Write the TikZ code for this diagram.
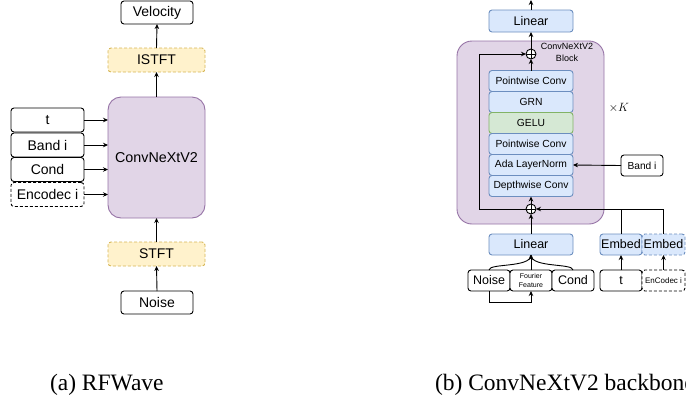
\documentclass[tikz,border=0pt]{standalone}
\usepackage{fontspec}
\setmainfont{Liberation Serif}
\newfontfamily\diagfont{Liberation Sans}
\usetikzlibrary{arrows.meta}

\definecolor{blueF}{HTML}{DAE8FC}
\definecolor{blueD}{HTML}{6C8EBF}
\definecolor{greenF}{HTML}{D5E8D4}
\definecolor{greenD}{HTML}{82B366}
\definecolor{yellowF}{HTML}{FFF2CC}
\definecolor{yellowD}{HTML}{D6B656}
\definecolor{purpleF}{HTML}{E1D5E7}
\definecolor{purpleD}{HTML}{9673A6}

\begin{document}
\begin{tikzpicture}[x=1pt,y=-1pt,
  every node/.style={inner sep=0pt, outer sep=0pt},
  box/.style={draw=black, fill=white, rounded corners=3pt, line width=0.9pt,
    font={\diagfont\fontsize{14}{16}\selectfont}},
  sbox/.style={box, font={\diagfont\fontsize{12.5}{14}\selectfont}},
  dashbox/.style={dash pattern=on 3pt off 2pt},
  yellowbox/.style={box, fill=yellowF, draw=yellowD, dashbox},
  bluebox/.style={sbox, fill=blueF, draw=blueD},
  layerbox/.style={box, fill=blueF, draw=blueD, minimum width=84, minimum height=21,
    font={\diagfont\fontsize{10.3}{12}\selectfont}},
  greenbox/.style={layerbox, fill=greenF, draw=greenD},
  purplebox/.style={draw=purpleD, fill=purpleF, line width=0.9pt},
  oplus/.style={circle, draw=black, fill=white, line width=0.9pt, minimum size=10,
    path picture={\draw[line width=0.9pt]
      (path picture bounding box.north) -- (path picture bounding box.south)
      (path picture bounding box.west) -- (path picture bounding box.east);}},
  conn/.style={draw=black, line width=0.9pt},
  arr/.style={conn, -{Stealth[length=5pt,width=4.5pt]}},
  caption/.style={font={\fontsize{23.5}{27}\selectfont}, anchor=base west}
]
\useasboundingbox (0,0) rectangle (686,400);
\clip (0,0) rectangle (686,400);

% ---------------- (a) RFWave ----------------
\node[box, minimum width=72, minimum height=23] (velocity) at (157,12.5) {Velocity};
\node[yellowbox, minimum width=97, minimum height=24] (istft) at (156.5,60) {ISTFT};
\node[purplebox, rounded corners=13pt, minimum width=97, minimum height=121,
  font={\diagfont\fontsize{14.3}{16}\selectfont}] (conv) at (156.5,157.5) {ConvNeXtV2};
\node[box, minimum width=73, minimum height=24] (tin) at (47.5,120) {t};
\node[box, minimum width=73, minimum height=24] (bandin) at (47.5,145) {Band i};
\node[box, minimum width=73, minimum height=24] (condin) at (47.5,169.5) {Cond};
\node[box, dashbox, minimum width=73, minimum height=24] (encin) at (47.5,194.5) {Encodec i};
\node[yellowbox, minimum width=97, minimum height=24] (stft) at (156.5,254) {STFT};
\node[box, minimum width=72, minimum height=23] (noise) at (157,302.5) {Noise};

\draw[arr] (noise.north) -- (stft.south);
\draw[arr] (stft.north) -- (conv.south);
\draw[arr] (conv.north) -- (istft.south);
\draw[arr] (istft.north) -- (velocity.south);
\foreach \n in {tin,bandin,condin,encin}
  \draw[arr] (\n.east) -- (\n.east -| conv.west);

% ---------------- (b) ConvNeXtV2 backbone ----------------
\node[purplebox, rounded corners=15pt, minimum width=147, minimum height=183] (block) at (530.5,132.5) {};
\node[font={\diagfont\fontsize{9}{12}\selectfont}, align=center] (blocklabel) at (567,52) {ConvNeXtV2\\Block};
\node[font=\fontsize{13}{15}\selectfont] (times) at (619,108) {$\times K$};

\node[bluebox, minimum width=84, minimum height=22] (lintop) at (531,21) {Linear};
\node[oplus] (addtop) at (531,54) {};
\node[layerbox] (pw1) at (531,81) {Pointwise Conv};
\node[layerbox] (grn) at (531,102) {GRN};
\node[greenbox] (gelu) at (531,123) {GELU};
\node[layerbox] (pw2) at (531,144) {Pointwise Conv};
\node[layerbox] (ada) at (531,165) {Ada LayerNorm};
\node[layerbox] (dw) at (531,186) {Depthwise Conv};
\node[oplus] (addbot) at (531,209) {};

\node[box, minimum width=42, minimum height=21,
  font={\diagfont\fontsize{10.2}{12}\selectfont}] (bandr) at (642,165.5) {Band i};

\node[bluebox, minimum width=84, minimum height=21] (linbot) at (531,244.5) {Linear};
\node[bluebox, minimum width=42, minimum height=21] (emb1) at (621,244.5) {Embed};
\node[bluebox, dashbox, minimum width=43, minimum height=21] (emb2) at (663.5,244.5) {Embed};

\node[sbox, minimum width=42, minimum height=21] (noiseb) at (489,280.5) {Noise};
\node[box, minimum width=42, minimum height=21, align=center,
  font={\diagfont\fontsize{7}{8.5}\selectfont}] (ff) at (531,280.5) {Fourier\\Feature};
\node[sbox, minimum width=42, minimum height=21] (condb) at (573,280.5) {Cond};
\node[sbox, minimum width=42, minimum height=21] (tb) at (621,280.5) {t};
\node[box, dashbox, minimum width=43, minimum height=21,
  font={\diagfont\fontsize{8}{10}\selectfont}] (encb) at (663.5,280.5) {EnCodec i};

\coordinate (out) at (531,0);
\coordinate (skipbot) at (479,209);
\coordinate (skiptop) at (479,54);

% main path
\draw[arr] (lintop.north) -- (out);
\draw[arr] (addtop.north) -- (lintop.south);
\draw[arr] (pw1.north) -- (addtop.south);
\draw[arr] (addbot.north) -- (dw.south);
\draw[arr] (linbot.north) -- (addbot.south);
% residual connection
\draw[arr] (addbot.west) -- (skipbot) -- (skiptop) -- (addtop.west);
% conditioning
\draw[arr] (bandr.west) -- (ada.east);
\draw[arr] (emb2.north) |- (addbot.east);
\draw[conn] (emb1.north) -- (emb1.north |- addbot.east);
\draw[arr] (tb.north) -- (emb1.south);
\draw[arr] (encb.north) -- (emb2.south);
% inputs gathered into the linear layer
\draw[conn] (noiseb.north) .. controls (489,263) and (531,268) .. (linbot.south);
\draw[conn] (condb.north) .. controls (573,263) and (531,268) .. (linbot.south);
\draw[arr] (ff.north) -- (linbot.south);
\draw[arr] (noiseb.south) -- ++(0,11) -| (ff.south);

% captions
\node[caption] (capa) at (50,390) {(a) RFWave};
\node[caption] (capb) at (435,390) {(b) ConvNeXtV2 backbone};
\end{tikzpicture}
\end{document}
